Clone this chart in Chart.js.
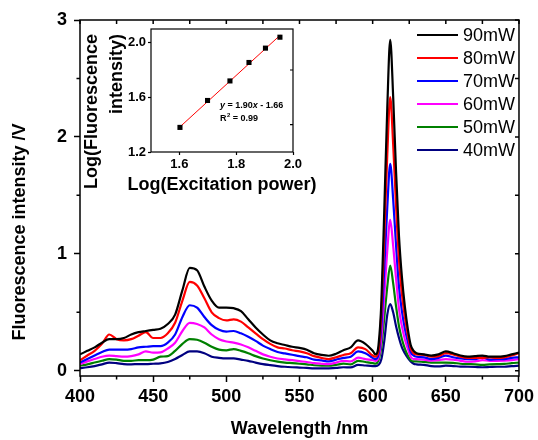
<!DOCTYPE html>
<html>
<head>
<meta charset="utf-8">
<script src="https://cdn.jsdelivr.net/npm/chart.js@4.4.0/dist/chart.umd.min.js"></script>
<style>
  body { margin: 0; background: #fff; }
  #wrap { position: relative; width: 538px; height: 440px; }
  canvas { position: absolute; left: 0; top: 0; }
</style>
</head>
<body>
<div id="wrap">
  <canvas id="main" width="538" height="440"></canvas>
  <canvas id="inset" width="330" height="200"></canvas>
</div>
<script>
const FONT = '"Liberation Sans", Arial, sans-serif';

// wavelength grid (nm)
const wavelength = [
  400, 405, 410, 415, 420, 425, 430, 435, 440, 445, 450, 455, 460, 465, 470, 475, 480, 485, 490, 495,
  500, 505, 510, 515, 520, 525, 530, 535, 540, 545, 550, 555, 560, 565, 570, 575, 580, 585, 590, 595, 600,
  602, 604, 606, 608, 610, 612, 614, 616, 618, 620, 622, 624, 626, 628, 630,
  635, 640, 645, 650, 655, 660, 665, 670, 675, 680, 685, 690, 695, 700
];

const mw90 = [
  0.14, 0.17, 0.20, 0.24, 0.27, 0.27, 0.28, 0.31, 0.33, 0.34, 0.35, 0.36, 0.40, 0.48, 0.69, 0.88, 0.86, 0.72, 0.60, 0.54,
  0.54, 0.535, 0.51, 0.44, 0.37, 0.31, 0.26, 0.235, 0.22, 0.205, 0.195, 0.18, 0.15, 0.135, 0.128, 0.145, 0.175, 0.20, 0.26, 0.23, 0.17,
  0.14, 0.22, 0.60, 1.40, 2.25, 2.83, 2.35, 1.70, 1.15, 0.80, 0.55, 0.36, 0.22, 0.17, 0.15,
  0.14, 0.13, 0.14, 0.165, 0.15, 0.13, 0.12, 0.125, 0.13, 0.12, 0.12, 0.125, 0.14, 0.155
];
const mw80 = [
  0.09, 0.13, 0.17, 0.23, 0.31, 0.27, 0.26, 0.27, 0.30, 0.33, 0.28, 0.28, 0.32, 0.41, 0.60, 0.76, 0.73, 0.62, 0.50, 0.45,
  0.43, 0.44, 0.42, 0.37, 0.32, 0.27, 0.23, 0.20, 0.19, 0.175, 0.165, 0.15, 0.125, 0.11, 0.10, 0.115, 0.135, 0.15, 0.20, 0.185, 0.13,
  0.12, 0.17, 0.51, 1.17, 1.85, 2.34, 1.94, 1.41, 0.95, 0.66, 0.46, 0.31, 0.19, 0.15, 0.14,
  0.135, 0.12, 0.125, 0.15, 0.14, 0.12, 0.11, 0.11, 0.11, 0.115, 0.11, 0.115, 0.13, 0.15
];
const mw70 = [
  0.07, 0.10, 0.13, 0.16, 0.18, 0.18, 0.18, 0.185, 0.20, 0.205, 0.21, 0.21, 0.24, 0.31, 0.46, 0.56, 0.54, 0.46, 0.39, 0.35,
  0.335, 0.34, 0.32, 0.29, 0.255, 0.215, 0.185, 0.16, 0.148, 0.137, 0.125, 0.115, 0.095, 0.088, 0.08, 0.095, 0.11, 0.12, 0.165, 0.15, 0.11,
  0.10, 0.14, 0.39, 0.89, 1.40, 1.77, 1.47, 1.07, 0.72, 0.51, 0.36, 0.25, 0.16, 0.13, 0.12,
  0.115, 0.10, 0.11, 0.13, 0.115, 0.105, 0.10, 0.10, 0.115, 0.095, 0.10, 0.10, 0.11, 0.115
];
const mw60 = [
  0.057, 0.08, 0.10, 0.12, 0.13, 0.125, 0.12, 0.125, 0.14, 0.165, 0.155, 0.157, 0.19, 0.24, 0.34, 0.41, 0.40, 0.37, 0.31, 0.27,
  0.25, 0.24, 0.225, 0.20, 0.17, 0.14, 0.12, 0.105, 0.097, 0.09, 0.082, 0.075, 0.065, 0.06, 0.057, 0.07, 0.085, 0.08, 0.112, 0.10, 0.09,
  0.085, 0.11, 0.29, 0.65, 1.03, 1.29, 1.07, 0.79, 0.53, 0.38, 0.27, 0.19, 0.12, 0.10, 0.10,
  0.095, 0.086, 0.09, 0.10, 0.095, 0.085, 0.077, 0.08, 0.09, 0.085, 0.085, 0.086, 0.09, 0.10
];
const mw50 = [
  0.043, 0.055, 0.07, 0.085, 0.10, 0.095, 0.085, 0.085, 0.09, 0.09, 0.095, 0.12, 0.125, 0.17, 0.23, 0.27, 0.265, 0.24, 0.205, 0.18,
  0.175, 0.185, 0.17, 0.15, 0.125, 0.105, 0.09, 0.078, 0.07, 0.065, 0.06, 0.055, 0.047, 0.043, 0.043, 0.05, 0.06, 0.055, 0.085, 0.075, 0.065,
  0.06, 0.09, 0.21, 0.46, 0.72, 0.90, 0.75, 0.55, 0.38, 0.27, 0.19, 0.13, 0.09, 0.08, 0.08,
  0.075, 0.07, 0.07, 0.07, 0.068, 0.06, 0.057, 0.055, 0.05, 0.055, 0.057, 0.058, 0.065, 0.07
];
const mw40 = [
  0.023, 0.03, 0.04, 0.055, 0.07, 0.065, 0.057, 0.055, 0.057, 0.057, 0.06, 0.063, 0.075, 0.10, 0.135, 0.165, 0.165, 0.15, 0.12, 0.11,
  0.105, 0.105, 0.095, 0.085, 0.07, 0.057, 0.048, 0.04, 0.034, 0.03, 0.027, 0.024, 0.021, 0.02, 0.021, 0.024, 0.03, 0.028, 0.05, 0.045, 0.04,
  0.04, 0.05, 0.10, 0.26, 0.48, 0.57, 0.50, 0.38, 0.28, 0.20, 0.15, 0.11, 0.08, 0.06, 0.055,
  0.05, 0.04, 0.037, 0.043, 0.04, 0.036, 0.034, 0.032, 0.03, 0.032, 0.034, 0.034, 0.04, 0.043
];

const seriesLabels = ['90mW', '80mW', '70mW', '60mW', '50mW', '40mW'];
const seriesColors = ['#000000', '#ff0000', '#0000ff', '#ff00ff', '#008000', '#000080'];
const seriesValues = [mw90, mw80, mw70, mw60, mw50, mw40];

const xTicks = [400, 450, 500, 550, 600, 650, 700];
const xMinor = [425, 475, 525, 575, 625, 675];
const yTicks = [0, 1, 2, 3];
const yMinor = [0.5, 1.5, 2.5];

// inset: log(power) vs log(intensity)
const logPower = [1.602, 1.699, 1.778, 1.845, 1.903, 1.954];
const logIntensity = [1.38, 1.577, 1.72, 1.855, 1.96, 2.04];
const fitX = [1.6, 1.955];
const fitY = [1.38, 2.055];
const insetXTicks = [1.6, 1.8, 2.0];
const insetYTicks = [1.2, 1.6, 2.0];

function toPoints(xs, ys) {
  return xs.map((x, i) => ({ x: x, y: ys[i] }));
}

// frame, minor ticks, y title and legend for the main plot
const mainDecor = {
  id: 'mainDecor',
  afterDraw(chart) {
    const ctx = chart.ctx;
    const a = chart.chartArea;
    const xs = chart.scales.x, ys = chart.scales.y;
    ctx.save();
    ctx.strokeStyle = '#000';
    ctx.lineWidth = 1.5;
    ctx.strokeRect(a.left, a.top, a.right - a.left, a.bottom - a.top);
    ctx.beginPath();
    xMinor.forEach(v => {
      const px = xs.getPixelForValue(v);
      ctx.moveTo(px, a.bottom); ctx.lineTo(px, a.bottom + 3.5);
    });
    yMinor.forEach(v => {
      const py = ys.getPixelForValue(v);
      ctx.moveTo(a.left, py); ctx.lineTo(a.left - 3.5, py);
    });
    // inward ticks on top and right
    xTicks.concat(xMinor).forEach(v => {
      const px = xs.getPixelForValue(v);
      ctx.moveTo(px, a.top); ctx.lineTo(px, a.top + 4);
    });
    yTicks.concat(yMinor).forEach(v => {
      const py = ys.getPixelForValue(v);
      ctx.moveTo(a.right, py); ctx.lineTo(a.right - 4, py);
    });
    ctx.stroke();

    // y title
    ctx.fillStyle = '#000';
    ctx.font = 'bold 18px ' + FONT;
    ctx.textAlign = 'center';
    ctx.textBaseline = 'middle';
    ctx.translate(20, 232);
    ctx.rotate(-Math.PI / 2);
    ctx.fillText('Fluorescence intensity /V', 0, 0);
    ctx.restore();

    // legend
    ctx.save();
    ctx.font = '18px ' + FONT;
    ctx.textAlign = 'left';
    ctx.textBaseline = 'middle';
    chart.data.datasets.forEach((ds, i) => {
      const y = 35 + i * 23;
      ctx.strokeStyle = ds.borderColor;
      ctx.lineWidth = 2;
      ctx.beginPath();
      ctx.moveTo(417, y); ctx.lineTo(458, y);
      ctx.stroke();
      ctx.fillStyle = '#000';
      ctx.fillText(ds.label, 463, y + 1);
    });
    ctx.restore();
  }
};

const tickFont = { family: FONT, size: 18, weight: 'bold' };

new Chart(document.getElementById('main'), {
  type: 'line',
  data: {
    datasets: seriesValues.map((vals, i) => ({
      label: seriesLabels[i],
      data: toPoints(wavelength, vals),
      borderColor: seriesColors[i],
      borderWidth: 2.2,
      pointRadius: 0,
      fill: false,
      cubicInterpolationMode: 'monotone'
    }))
  },
  options: {
    responsive: false,
    animation: false,
    events: [],
    layout: { padding: { top: 20, right: 17, left: 0, bottom: 0 } },
    plugins: { legend: { display: false }, tooltip: { enabled: false } },
    scales: {
      x: {
        type: 'linear', min: 400, max: 700,
        afterBuildTicks: s => { s.ticks = xTicks.map(v => ({ value: v })); },
        afterFit: s => { s.height = 64; },
        grid: { drawOnChartArea: false, tickLength: 6, tickColor: '#000', tickWidth: 1.5 },
        border: { display: false },
        ticks: { color: '#000', font: tickFont, padding: 4, maxRotation: 0, autoSkip: false },
        title: { display: true, text: 'Wavelength /nm', color: '#000', font: tickFont, padding: { top: 0, bottom: 0 } }
      },
      y: {
        type: 'linear', min: -0.045, max: 3,
        afterBuildTicks: s => { s.ticks = yTicks.map(v => ({ value: v })); },
        afterFit: s => { s.width = 80; },
        grid: { drawOnChartArea: false, tickLength: 6, tickColor: '#000', tickWidth: 1.5 },
        border: { display: false },
        ticks: { color: '#000', font: tickFont, padding: 7, autoSkip: false }
      }
    }
  },
  plugins: [mainDecor]
});

// inset decorations: frame, axis titles, equation
const insetDecor = {
  id: 'insetDecor',
  afterDraw(chart) {
    const ctx = chart.ctx;
    const a = chart.chartArea;
    const ys = chart.scales.y;
    ctx.save();
    ctx.strokeStyle = '#000';
    ctx.lineWidth = 1.2;
    ctx.strokeRect(a.left, a.top, a.right - a.left, a.bottom - a.top);
    ctx.beginPath();
    [1.4, 1.8].forEach(v => {
      const py = ys.getPixelForValue(v);
      ctx.moveTo(a.right, py); ctx.lineTo(a.right - 3, py);
    });
    ctx.stroke();

    ctx.fillStyle = '#000';
    ctx.font = 'bold 18px ' + FONT;
    ctx.textAlign = 'center';
    ctx.textBaseline = 'middle';
    ctx.fillText('Log(Excitation power)', (a.left + a.right) / 2, 185);

    ctx.textAlign = 'right';
    ctx.textBaseline = 'alphabetic';
    ctx.save();
    ctx.translate(97, 34);
    ctx.rotate(-Math.PI / 2);
    ctx.fillText('Log(Fluorescence', 0, 0);
    ctx.restore();
    ctx.save();
    ctx.translate(122, 34);
    ctx.rotate(-Math.PI / 2);
    ctx.fillText('intensity)', 0, 0);
    ctx.restore();

    // fit equation
    ctx.textAlign = 'left';
    ctx.textBaseline = 'middle';
    let x = 220;
    const parts = [['y', true], [' = 1.90', false], ['x', true], [' - 1.66', false]];
    parts.forEach(([t, it]) => {
      ctx.font = (it ? 'italic ' : '') + 'bold 9px ' + FONT;
      ctx.fillText(t, x, 106);
      x += ctx.measureText(t).width;
    });
    ctx.font = 'bold 9px ' + FONT;
    ctx.fillText('R', 220, 119);
    let rx = 220 + ctx.measureText('R').width;
    ctx.font = 'bold 6px ' + FONT;
    ctx.fillText('2', rx + 0.5, 115);
    rx += ctx.measureText('2').width + 0.5;
    ctx.font = 'bold 9px ' + FONT;
    ctx.fillText(' = 0.99', rx, 119);
    ctx.restore();
  }
};

const insetFont = { family: FONT, size: 13, weight: 'bold' };

new Chart(document.getElementById('inset'), {
  type: 'scatter',
  data: {
    datasets: [
      {
        data: toPoints(logPower, logIntensity),
        pointStyle: 'rect',
        pointRadius: 3.6,
        backgroundColor: '#000',
        borderColor: '#000',
        borderWidth: 0,
        showLine: false
      },
      {
        data: toPoints(fitX, fitY),
        showLine: true,
        borderColor: '#ff0000',
        borderWidth: 1,
        pointRadius: 0
      }
    ]
  },
  options: {
    responsive: false,
    animation: false,
    events: [],
    layout: { padding: { top: 29, right: 37, left: 0, bottom: 0 } },
    plugins: { legend: { display: false }, tooltip: { enabled: false } },
    scales: {
      x: {
        type: 'linear', min: 1.5, max: 2.0,
        afterBuildTicks: s => { s.ticks = insetXTicks.map(v => ({ value: v })); },
        afterFit: s => { s.height = 48; },
        grid: { drawOnChartArea: false, tickLength: 3, tickColor: '#000', tickWidth: 1.2 },
        border: { display: false },
        ticks: { color: '#000', font: insetFont, padding: 2, maxRotation: 0, autoSkip: false, callback: v => v.toFixed(1) }
      },
      y: {
        type: 'linear', min: 1.2, max: 2.1,
        afterBuildTicks: s => { s.ticks = insetYTicks.map(v => ({ value: v })); },
        afterFit: s => { s.width = 151; },
        grid: { drawOnChartArea: false, tickLength: 3, tickColor: '#000', tickWidth: 1.2 },
        border: { display: false },
        ticks: { color: '#000', font: insetFont, padding: 2, autoSkip: false, callback: v => v.toFixed(1) }
      }
    }
  },
  plugins: [insetDecor]
});
</script>
</body>
</html>
